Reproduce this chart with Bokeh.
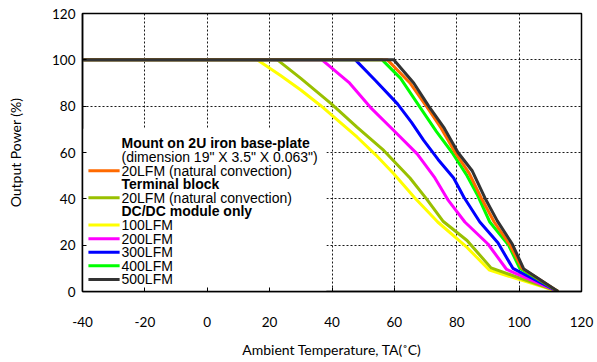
from bokeh.plotting import figure
from bokeh.models import Range1d, Label, FixedTicker, PrintfTickFormatter
from bokeh.embed import file_html
from bokeh.resources import INLINE

# ---- data (Ambient temperature in C, output power in %) ----
t_yellow = [-40, 16, 23.5, 30, 36.3, 48.1, 54, 59.8, 66.5, 73.9, 83.3, 90.5, 112.5]
p_yellow = [100, 100, 93.2, 87, 80.3, 66.6, 59, 50.8, 40.5, 30, 19, 9.2, 0]
t_olive = [-40, 22.5, 30, 39.8, 48, 56.6, 65, 70.3, 75.7, 83.3, 91, 112.5]
p_olive = [100, 100, 92, 81, 71, 60.9, 49, 40, 30.2, 22, 10.2, 0]
t_magenta = [-40, 36.8, 45.4, 52.3, 59.8, 67.3, 73, 77.3, 82.6, 90, 96, 112.5]
p_magenta = [100, 100, 90.3, 79.5, 69.5, 59.4, 49, 39.3, 30, 20.5, 9.5, 0]
t_blue = [-40, 47.5, 54, 61, 65.5, 69.4, 74, 79, 82.3, 87.4, 93.2, 98, 112.5]
p_blue = [100, 100, 91, 81, 73, 65.2, 57, 49, 40.7, 30, 21, 10, 0]
t_green = [-40, 56.1, 62, 65.5, 69, 73.5, 78.5, 83.3, 86.5, 90.6, 96.6, 100.2, 112.5]
p_green = [100, 100, 92, 85, 78, 69, 60, 50, 42, 30, 20, 10, 0]
t_orange = [-40, 57.8, 65, 70, 75, 79.5, 84, 88, 92, 97.1, 100.9, 112.5]
p_orange = [100, 100, 90, 80.5, 70.5, 60, 51, 40, 30, 20, 10, 0]
t_dark = [-40, 59.8, 66.2, 71, 76, 80.4, 85, 89, 93, 97.8, 101.5, 112.5]
p_dark = [100, 100, 90, 80, 70.5, 60, 52, 40.5, 30.5, 20.5, 9.7, 0]

x_ticks = [-40, -20, 0, 20, 40, 60, 80, 100, 120]
y_ticks = [0, 20, 40, 60, 80, 100, 120]

legend_rows = [
    ("Mount on 2U iron base-plate", None, "bold"),
    ("(dimension 19\" X 3.5\" X 0.063\")", None, "normal"),
    ("20LFM (natural convection)", "#ff6a00", "normal"),
    ("Terminal block", None, "bold"),
    ("20LFM (natural convection)", "#99c000", "normal"),
    ("DC/DC module only", None, "bold"),
    ("100LFM", "#ffff00", "normal"),
    ("200LFM", "#ff00ff", "normal"),
    ("300LFM", "#0000ff", "normal"),
    ("400LFM", "#00ff00", "normal"),
    ("500LFM", "#333333", "normal"),
]

FONT_AX = "Lato"
FONT_LG = "Liberation Sans"

p = figure(width=597, height=362, output_backend="svg", toolbar_location=None,
           x_range=Range1d(-40, 120), y_range=Range1d(0, 120),
           min_border_left=82, min_border_right=16, min_border_top=13, min_border_bottom=71)
p.outline_line_color = "black"
p.outline_line_width = 1.5
p.background_fill_color = "white"

for ax in (p.xaxis[0], p.yaxis[0]):
    ax.axis_line_color = "black"
    ax.axis_line_width = 1.5
    ax.major_tick_in = 4
    ax.major_tick_out = 0
    ax.minor_tick_line_color = None
    ax.major_label_text_font = FONT_AX
    ax.major_label_text_font_size = "13.5px"
    ax.major_label_text_color = "black"
    ax.axis_label_text_font = FONT_AX
    ax.axis_label_text_font_size = "14px"
    ax.axis_label_text_font_style = "normal"
    ax.axis_label_text_color = "black"
    ax.formatter = PrintfTickFormatter(format="%d")

p.xaxis.ticker = FixedTicker(ticks=x_ticks)
p.yaxis.ticker = FixedTicker(ticks=y_ticks)
p.xaxis.major_label_standoff = 25
p.xaxis.axis_label_standoff = 11
p.yaxis.major_label_standoff = 7
p.yaxis.axis_label_standoff = 25
p.xaxis.axis_label = "Ambient Temperature, TA(\u02daC)"
p.yaxis.axis_label = "Output Power (%)"

p.xgrid.ticker = FixedTicker(ticks=x_ticks[1:-1])
p.ygrid.ticker = FixedTicker(ticks=y_ticks[1:-1])
for g in (p.xgrid[0], p.ygrid[0]):
    g.grid_line_color = "black"
    g.grid_line_dash = "2 2"
    g.grid_line_width = 1
    g.grid_line_alpha = 0.9

# legend background (covers the grid)
p.quad(left=[-40], right=[38.2], bottom=[0], top=[70.3],
       fill_color="white", line_color=None)

series = [
    (t_yellow, p_yellow, "#ffff00"),
    (t_olive, p_olive, "#99c000"),
    (t_magenta, p_magenta, "#ff00ff"),
    (t_blue, p_blue, "#0000ff"),
    (t_green, p_green, "#00ff00"),
    (t_orange, p_orange, "#ff6a00"),
    (t_dark, p_dark, "#333333"),
]
for xs, ys, c in series:
    p.line(xs, ys, line_color=c, line_width=3)

# legend (manual, data units)
row0 = 63.9
step = 5.87
for i, (txt, col, style) in enumerate(legend_rows):
    yy = row0 - i * step
    p.add_layout(Label(x=-27.5, y=yy, text=txt, text_font=FONT_LG,
                       text_font_size="14px", text_font_style=style,
                       text_baseline="middle", text_color="black"))
    if col is not None:
        p.segment(x0=[-38.1], y0=[yy], x1=[-28.1], y1=[yy],
                  line_color=col, line_width=3)

open("out.html", "w").write(file_html(p, INLINE))
